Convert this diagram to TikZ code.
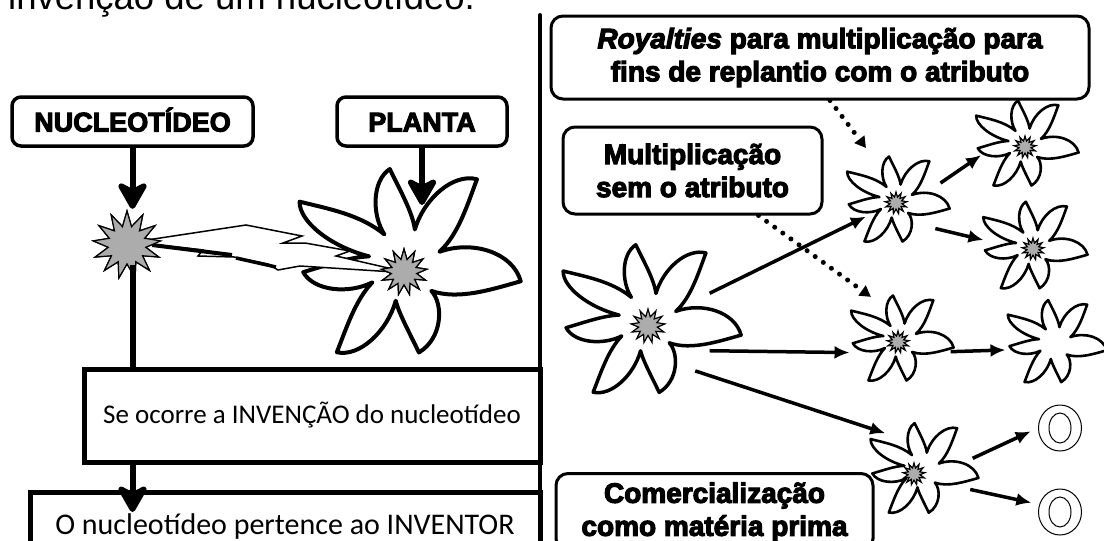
\documentclass[tikz,border=0pt]{standalone}
\usepackage{fontspec}
\setmainfont{Liberation Sans}
\newfontfamily\heavyfont{Liberation Sans}[FakeBold=4]
\newfontfamily\calfont{Carlito}
\usetikzlibrary{arrows.meta,shapes.geometric}

% seven-petal flower outline centred at (#1,#2), outer size #3, stroke #4
\newcommand\flowerpetals[4]{%
  \begin{scope}[shift={(#1,#2)}]
    \filldraw[petal, line width=#4] (-74.5:{0.3*#3})
      \foreach \fa/\fb/\fc/\fd in {-74.5/-50/-21/0.91, -21/8/44.5/0.95, 44.5/81/104.5/0.72,
          104.5/128/152/0.9, 152/176/193.5/0.83, 193.5/211/236/1.0, 236/261/285.5/0.79}
      { .. controls ({\fa+0.02*(\fb-\fa)}:{0.62*\fd*#3}) and ({\fb-0.5*(\fb-\fa)}:{0.93*\fd*#3}) .. ({\fb}:{\fd*#3})
        .. controls ({\fb+0.2*(\fc-\fb)}:{0.78*\fd*#3}) and ({\fb+0.7*(\fc-\fb)}:{0.55*\fd*#3}) .. ({\fc}:{0.3*#3}) }
      -- cycle;
  \end{scope}}

\begin{document}
\begin{tikzpicture}[x=1pt,y=-1pt,
  petal/.style={fill=white, draw=black, line join=round},
  burst/.style={star, star points=13, star point ratio=1.8, fill=gray!65, draw=black,
    line width=1.2pt, inner sep=0pt},
  hub/.style={circle, inner sep=0pt, outer sep=0pt},
  bolt/.style={fill=white, draw=black, line width=1.5pt, line join=miter},
  tagbox/.style={draw, line width=3.5pt, rounded corners=9pt, fill=white, inner sep=0pt,
    text height=20pt, text depth=0pt,
    font=\heavyfont\bfseries\fontsize{27}{30}\selectfont},
  notebox/.style={draw, line width=3pt, rounded corners=12pt, fill=white, align=center,
    inner sep=0pt, font=\heavyfont\bfseries\fontsize{28}{33}\selectfont},
  plainbox/.style={draw, line width=5pt, fill=white, inner sep=0pt,
    font=\calfont\fontsize{27}{32}\selectfont},
  bigarrow/.style={line width=6pt, -{Stealth[length=32pt,width=36pt,inset=9pt,round]}},
  stem/.style={line width=6pt},
  flowarrow/.style={line width=3.5pt, -{Latex[length=15pt,width=13pt]}},
  dotarrow/.style={line width=5pt, line cap=round, dash pattern=on 0pt off 10pt,
    -{Triangle[length=11pt,width=12pt]}},
  ringo/.style={ellipse, draw, line width=1pt, minimum width=43pt, minimum height=46pt, inner sep=0pt}
]
\useasboundingbox (0,0) rectangle (1104,541);
\clip (0,0) rectangle (1104,541);
\fill[white] (0,0) rectangle (1104,541);

% heading line, mostly above the page
\node[anchor=base west, inner sep=0pt, font=\fontsize{36.5}{40}\selectfont] (head) at (8,9)
  {invenção de um nucleotídeo.};

% ---------- left half ----------
\flowerpetals{405}{265}{123}{4pt}
\node[hub, minimum size=90pt] (plantflower) at (405,265) {};

\node[tagbox, minimum width=241pt, minimum height=49pt] (nuc) at (132.5,121.5) {NUCLEOTÍDEO};
\node[tagbox, minimum width=170pt, minimum height=49pt] (plant) at (422,121.5) {PLANTA};

\node[burst, minimum size=68pt] (nb) at (127,245) {};
\node[burst, minimum size=46pt] (pb) at (404,272) {};

% lightning from the nucleotide into the plant
\filldraw[bolt] (147,240) -- (246,225) -- (302,236) -- (283,243) -- (305,243) -- (350,251)
  -- (336,256) -- (410,273) -- (300,266) -- (278,270) -- (268,264) -- (234,257)
  -- (198,256) -- (203,250) -- (150,244) -- cycle;
\draw[line width=4pt] (152,245) -- (232,255);
\draw[line width=3.5pt] (236,258) -- (276,267);
\node[burst, minimum size=46pt] at (pb) {};
\node[burst, minimum size=68pt] at (nb) {};

\coordinate (plantin) at (422,205);
\draw[bigarrow] (plant.south) -- (plantin);
\draw[bigarrow] (nuc.south) -- (nuc.south |- nb.north);

\node[plainbox, minimum width=456pt, minimum height=93pt] (se) at (312,415.5)
  {Se ocorre a INVENÇÃO do nucleotídeo};
\node[plainbox, anchor=north, minimum width=510pt, inner ysep=22pt, text height=20pt,
  text depth=7pt, font=\calfont\fontsize{30}{34}\selectfont] (inv) at (285,490)
  {O nucleotídeo pertence ao INVENTOR};

\draw[stem] (nuc.south |- nb.south) -- (nuc.south |- se.north);
\draw[bigarrow, shorten >=-22pt] (nuc.south |- se.south) -- (nuc.south |- inv.north);

% divider between the two halves
\draw[line width=4pt, line cap=round] (540,15) -- (540,545);

% ---------- right half ----------
\flowerpetals{648}{322}{99}{3.5pt}
\flowerpetals{896}{201}{57}{2.6pt}
\flowerpetals{1025}{145}{57}{2.6pt}
\flowerpetals{1033}{247}{58}{2.6pt}
\flowerpetals{900}{340}{57}{2.6pt}
\flowerpetals{1055}{343}{55}{2.6pt}
\flowerpetals{922}{470}{60}{2.6pt}

\node[hub, minimum size=136pt] (src) at (648,322) {};
\node[hub, minimum size=96pt] (f2) at (896,201) {};
\node[hub, minimum size=90pt] (f3) at (1025,145) {};
\node[hub, minimum size=100pt] (f4) at (1033,247) {};
\node[hub, minimum size=104pt] (f5) at (900,340) {};
\node[hub, minimum size=100pt] (f6) at (1055,343) {};
\node[hub, minimum size=104pt] (f7) at (922,470) {};

\node[burst, minimum size=34pt] (sb) at (648,326) {};
\node[burst, minimum size=22pt] (b2) at (896,203) {};
\node[burst, minimum size=22pt] (b3) at (1025,147) {};
\node[burst, minimum size=22pt] (b4) at (1033,249) {};
\node[burst, minimum size=22pt] (b5) at (898,342) {};
\node[burst, minimum size=22pt] (b7) at (914,474) {};

% hollow O marks
\node[ringo] (o1) at (1060,428) {};
\draw[line width=1pt] (o1.center) ellipse [x radius=11, y radius=15];
\node[ringo] (o2) at (1060,512) {};
\draw[line width=1pt] (o2.center) ellipse [x radius=11, y radius=15];

\node[notebox, minimum width=538pt, minimum height=83pt] (roy) at (820,57.5)
  {\itshape Royalties\upshape{} para multiplicação para\\fins de replantio com o atributo};
\node[notebox, minimum width=259pt, minimum height=87pt] (mul) at (692.5,170.5)
  {Multiplicação\\sem o atributo};
\node[notebox, anchor=north, minimum width=317pt, inner ysep=9pt] (com) at (714.5,472)
  {Comercialização\\como matéria prima};

\draw[flowarrow, shorten >=-14pt] (src.25) -- (f2.207);
\draw[flowarrow] (src.-25) -- (f5.194);
\draw[flowarrow] (src.-46) -- (f7.135);
\draw[flowarrow] (f2.22) -- (f3.193);
\draw[flowarrow] (f2.-35) -- (f4.172);
\draw[flowarrow] (f5.-13) -- (f6.188);
\draw[flowarrow, shorten >=8pt] (f7.13) -- (o1.west);
\draw[flowarrow, shorten >=8pt] (f7.-22) -- (o2.160);

\coordinate (royend) at (866,148);
\draw[dotarrow] ([xshift=10pt]roy.south) -- (royend);
\draw[dotarrow] ([xshift=66pt]mul.south) -- (f5.124);
\end{tikzpicture}
\end{document}
